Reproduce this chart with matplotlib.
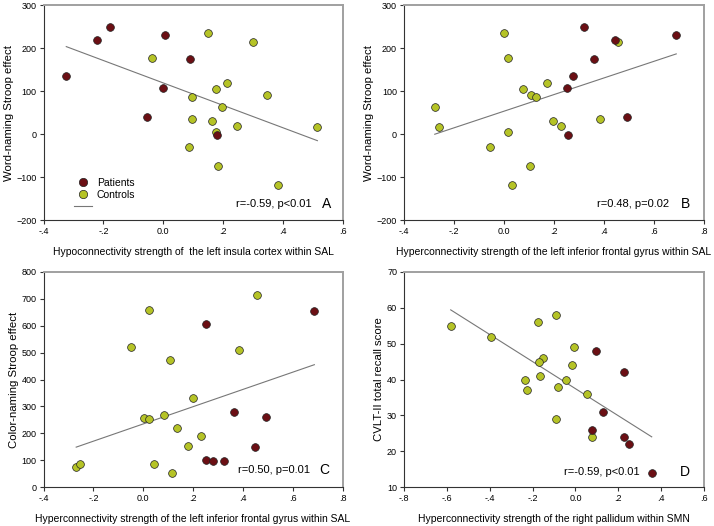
import numpy as np
import matplotlib
matplotlib.use('Agg')
import matplotlib.pyplot as plt
from matplotlib.lines import Line2D
from matplotlib.ticker import FuncFormatter

plt.rcParams['font.family'] = ['Liberation Sans', 'DejaVu Sans']

pat_color = '#6b0f14'
con_color = '#b5c326'

# Word-naming Stroop effect (shared by panels A and B)
word_pat = [136, 220, 249, 231, 108, 41, 175, -2]
word_con = [236, 215, 178, 119, 106, 91, 86, 62, 36, 30, 19, 17, 5, -30, -74, -119]

# panel A: hypoconnectivity of the left insula
insula_pat = [-0.324, -0.222, -0.178, 0.007, -0.001, -0.055, 0.090, 0.179]
insula_con = [0.151, 0.299, -0.037, 0.212, 0.178, 0.348, 0.096, 0.196, 0.097,
              0.162, 0.247, 0.516, 0.176, 0.087, 0.183, 0.384]

# panel B: hyperconnectivity of the left IFG
ifg_pat_b = [0.277, 0.443, 0.319, 0.689, 0.251, 0.491, 0.359, 0.255]
ifg_con_b = [0.0, 0.457, 0.016, 0.172, 0.077, 0.107, 0.128, -0.277, 0.384,
             0.196, 0.228, -0.261, 0.018, -0.054, 0.104, 0.034]

# panel C: color-naming Stroop effect vs left IFG
ifg_pat_c = [0.254, 0.687, 0.364, 0.493, 0.254, 0.281, 0.324, 0.449]
color_pat = [606, 656, 278, 260, 102, 97, 98, 149]
ifg_con_c = [0.458, 0.024, -0.047, 0.384, 0.109, 0.200, 0.083, 0.005, 0.024,
             0.134, 0.233, 0.178, 0.042, -0.269, -0.253, 0.115]
color_con = [714, 657, 522, 508, 473, 332, 268, 257, 253, 219, 189, 152, 87, 73, 84, 51]

# panel D: CVLT-II total recall vs right pallidum
pall_pat = [0.094, 0.225, 0.127, 0.076, 0.228, 0.251, 0.356]
cvlt_pat = [48, 42, 31, 26, 24, 22, 14]
pall_con = [-0.582, -0.396, -0.091, -0.176, -0.005, -0.151, -0.169, -0.016,
            -0.234, -0.164, -0.046, -0.228, -0.082, 0.054, -0.091, 0.076]
cvlt_con = [55, 52, 58, 56, 49, 46, 45, 44, 40, 41, 40, 37, 38, 36, 29, 24]


def fmt(v, pos):
    if abs(v) < 1e-9:
        return '0.0'
    return ('%.1f' % v).replace('0.', '.')


def panel(ax, xp, yp, xc, yc, xlim, ylim, ystep, xlabel, ylabel, stat, letter, sx, tx, ty):
    xall = np.array(xp + xc)
    yall = np.array(yp + yc)
    k, b = np.polyfit(xall, yall, 1)
    xs = np.array([xall.min(), xall.max()])
    ax.plot(xs, k * xs + b, color='#777777', lw=0.8, zorder=1)
    ax.scatter(xc, yc, s=31, color=con_color, edgecolor='#222222', lw=0.5, zorder=3)
    ax.scatter(xp, yp, s=31, color=pat_color, edgecolor='#222222', lw=0.5, zorder=3)
    ax.set_xlim(xlim)
    ax.set_ylim(ylim)
    ax.set_xticks(np.arange(xlim[0], xlim[1] + 0.01, 0.2))
    ax.set_yticks(np.arange(ylim[0], ylim[1] + 1, ystep))
    ax.xaxis.set_major_formatter(FuncFormatter(fmt))
    ax.tick_params(direction='out', length=3, width=0.8, labelsize=6.5, color='#333333', pad=2)
    for s in ['left', 'bottom']:
        ax.spines[s].set_color('#333333')
        ax.spines[s].set_linewidth(0.8)
    for s in ['top', 'right']:
        ax.spines[s].set_color('#a0a0a0')
        ax.spines[s].set_linewidth(1.4)
    ax.set_xlabel(xlabel, fontsize=7.5, labelpad=8)
    ax.set_ylabel(ylabel, fontsize=8.2, labelpad=2)
    ax.text(sx, ty, stat, transform=ax.transAxes, ha='right', va='center', fontsize=8)
    ax.text(tx, ty, letter, transform=ax.transAxes, ha='center', va='center', fontsize=10)


fig = plt.figure(figsize=(7.14, 5.26), dpi=100)
axA = fig.add_axes([0.061, 0.5817, 0.4187, 0.4083])
axB = fig.add_axes([0.5658, 0.5817, 0.4202, 0.4083])
axC = fig.add_axes([0.061, 0.0741, 0.4187, 0.4088])
axD = fig.add_axes([0.5658, 0.0741, 0.4202, 0.4088])

panel(axA, insula_pat, word_pat, insula_con, word_con, (-0.4, 0.6), (-200, 300), 100,
      'Hypoconnectivity strength of  the left insula cortex within SAL',
      'Word-naming Stroop effect', 'r=-0.59, p<0.01', 'A', 0.898, 0.948, 0.075)
panel(axB, ifg_pat_b, word_pat, ifg_con_b, word_con, (-0.4, 0.8), (-200, 300), 100,
      'Hyperconnectivity strength of the left inferior frontal gyrus within SAL',
      'Word-naming Stroop effect', 'r=0.48, p=0.02', 'B', 0.883, 0.937, 0.075)
panel(axC, ifg_pat_c, color_pat, ifg_con_c, color_con, (-0.4, 0.8), (0, 800), 100,
      'Hyperconnectivity strength of the left inferior frontal gyrus within SAL',
      'Color-naming Stroop effect', 'r=0.50, p=0.01', 'C', 0.891, 0.94, 0.08)
panel(axD, pall_pat, cvlt_pat, pall_con, cvlt_con, (-0.8, 0.6), (10, 70), 10,
      'Hyperconnectivity strength of the right pallidum within SMN',
      'CVLT-II total recall score', 'r=-0.59, p<0.01', 'D', 0.787, 0.937, 0.07)

handles = [Line2D([], [], marker='o', ls='', ms=6, mfc=pat_color, mec='#222222', mew=0.5),
           Line2D([], [], marker='o', ls='', ms=6, mfc=con_color, mec='#222222', mew=0.5),
           Line2D([], [], color='#777777', lw=0.8)]
axA.legend(handles, ['Patients', 'Controls', ' '], loc='lower left', bbox_to_anchor=(0.07, -0.005),
           frameon=False, fontsize=7.5, handlelength=1.7, handletextpad=0.5, labelspacing=0.2)

fig.savefig('out.png', dpi=100)
